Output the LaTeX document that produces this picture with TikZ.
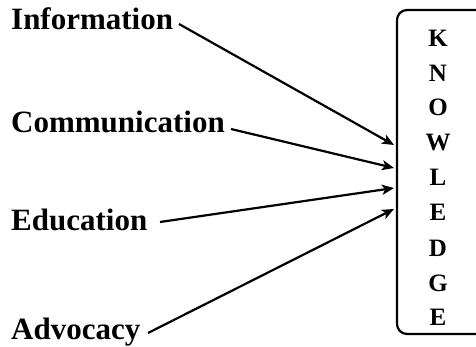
\documentclass[tikz,border=0pt]{standalone}
\usepackage{fontspec}
\setmainfont{Liberation Serif}
\usetikzlibrary{arrows.meta}
\tikzset{
  lbl/.style={font=\fontsize{31}{33}\selectfont\bfseries, anchor=base west, inner sep=0pt},
  ltr/.style={font=\fontsize{25}{27}\selectfont\bfseries, anchor=base, inner sep=0pt},
  conn/.style={line width=2.2pt, -{Stealth[length=12pt,width=10pt,inset=3pt]}},
  kbox/.style={line width=2.2pt, rounded corners=10pt}
}
\begin{document}
\begin{tikzpicture}[x=1pt,y=-1pt]
\useasboundingbox (0,0) rectangle (476,347);
\clip (0,0) rectangle (476,347);
\draw[kbox] (397,10) rectangle (520,334);
\node[lbl] (info) at (11,30) {Information};
\node[lbl] (comm) at (11,133) {Communication};
\node[lbl] (edu) at (11,231) {Education};
\node[lbl] (adv) at (11,339.5) {Advocacy};
\foreach \l/\y [count=\i] in {K/47,N/82,O/116,W/151,L/186,E/221,D/256,G/291,E/325}
  \node[ltr] (k\i) at (438,\y) {\l};
\coordinate (s1) at (179,24);
\coordinate (s2) at (231,129);
\coordinate (s3) at (160,222);
\coordinate (s4) at (148,333);
\coordinate (t1) at (394,145);
\coordinate (t2) at (394,168);
\coordinate (t3) at (394,188);
\coordinate (t4) at (394,209);
\draw[conn] (s1) -- (t1);
\draw[conn] (s2) -- (t2);
\draw[conn] (s3) -- (t3);
\draw[conn] (s4) -- (t4);
\end{tikzpicture}
\end{document}
